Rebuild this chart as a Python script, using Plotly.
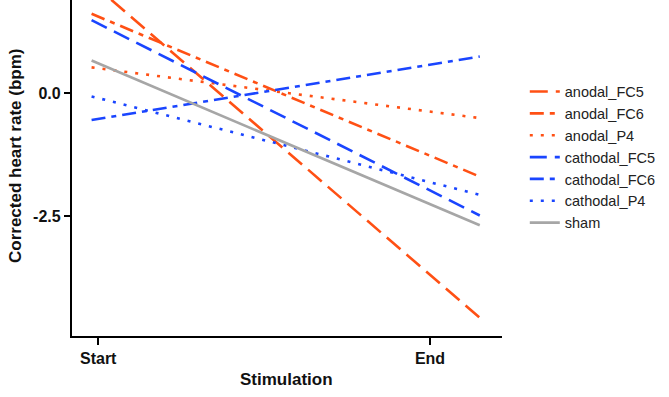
import plotly.graph_objects as go

# x positions of the fitted line ends (Start = 0, End = 1)
x_ends = [-0.02, 1.15]
tick_vals_x = [0, 1]
tick_text_x = ["Start", "End"]

series_names = ["anodal_FC5", "anodal_FC6", "anodal_P4",
                "cathodal_FC5", "cathodal_FC6", "cathodal_P4", "sham"]
anodal_FC5 = [2.24, -4.57]
anodal_FC6 = [1.61, -1.70]
anodal_P4 = [0.52, -0.51]
cathodal_FC5 = [1.48, -2.49]
cathodal_FC6 = [-0.55, 0.74]
cathodal_P4 = [-0.07, -2.07]
sham = [0.66, -2.69]

tick_vals_y = [0, -2.5]
tick_text_y = ["0.0", "-2.5"]

ORANGE = "#FF5014"
BLUE = "#1A45FF"
GRAY = "#A6A6A6"

styles = {
    "anodal_FC5": (ORANGE, "18px,8px"),
    "anodal_FC6": (ORANGE, "14px,6px,5px,6px"),
    "anodal_P4": (ORANGE, "3px,8px"),
    "cathodal_FC5": (BLUE, "17px,8px"),
    "cathodal_FC6": (BLUE, "14px,6px,5px,6px"),
    "cathodal_P4": (BLUE, "3px,8px"),
    "sham": (GRAY, "solid"),
}
values = {
    "anodal_FC5": anodal_FC5, "anodal_FC6": anodal_FC6, "anodal_P4": anodal_P4,
    "cathodal_FC5": cathodal_FC5, "cathodal_FC6": cathodal_FC6,
    "cathodal_P4": cathodal_P4, "sham": sham,
}

FONT = "Arial, Liberation Sans, sans-serif"

fig = go.Figure()
for name in series_names:
    color, dash = styles[name]
    fig.add_trace(go.Scatter(
        x=x_ends, y=values[name], mode="lines", name=name,
        line=dict(color=color, width=2.6, dash=dash),
    ))

fig.update_layout(
    width=669, height=397,
    margin=dict(l=72, r=167, t=0, b=61, autoexpand=False),
    paper_bgcolor="white", plot_bgcolor="white",
    font=dict(family=FONT, color="#111111"),
    showlegend=True,
    legend=dict(
        x=1.053, xanchor="left", y=0.775, yanchor="top",
        font=dict(family=FONT, size=14.5, color="#222222"),
        bgcolor="rgba(0,0,0,0)", tracegroupgap=0, itemwidth=30,
    ),
    xaxis=dict(
        range=[-0.079, 1.217], showgrid=False, zeroline=False, automargin=False,
        showline=True, linecolor="black", linewidth=2.2,
        ticks="outside", ticklen=7, tickwidth=2, tickcolor="black",
        tickvals=tick_vals_x, ticktext=tick_text_x,
        tickfont=dict(family=FONT, size=16, color="#111111", weight="bold"),
    ),
    yaxis=dict(
        range=[-4.94, 1.89], showgrid=False, zeroline=False, automargin=False,
        showline=True, linecolor="black", linewidth=2.2,
        ticks="outside", ticklen=6, tickwidth=2, tickcolor="black",
        tickvals=tick_vals_y, ticktext=tick_text_y,
        tickfont=dict(family=FONT, size=16, color="#111111", weight="bold"),
    ),
    annotations=[
        dict(text="<b>Stimulation</b>", xref="paper", yref="paper",
             x=0.498, y=-0.128, xanchor="center", yanchor="middle", showarrow=False,
             font=dict(family=FONT, size=17, color="#111111")),
        dict(text="<b>Corrected heart rate (bpm)</b>", xref="paper", yref="paper",
             x=-0.130, y=0.536, xanchor="center", yanchor="middle", showarrow=False,
             textangle=-90, font=dict(family=FONT, size=17, color="#111111")),
    ],
)

fig.write_html("out.html", config={"displayModeBar": False},
               post_script="document.body.style.margin='0';")
